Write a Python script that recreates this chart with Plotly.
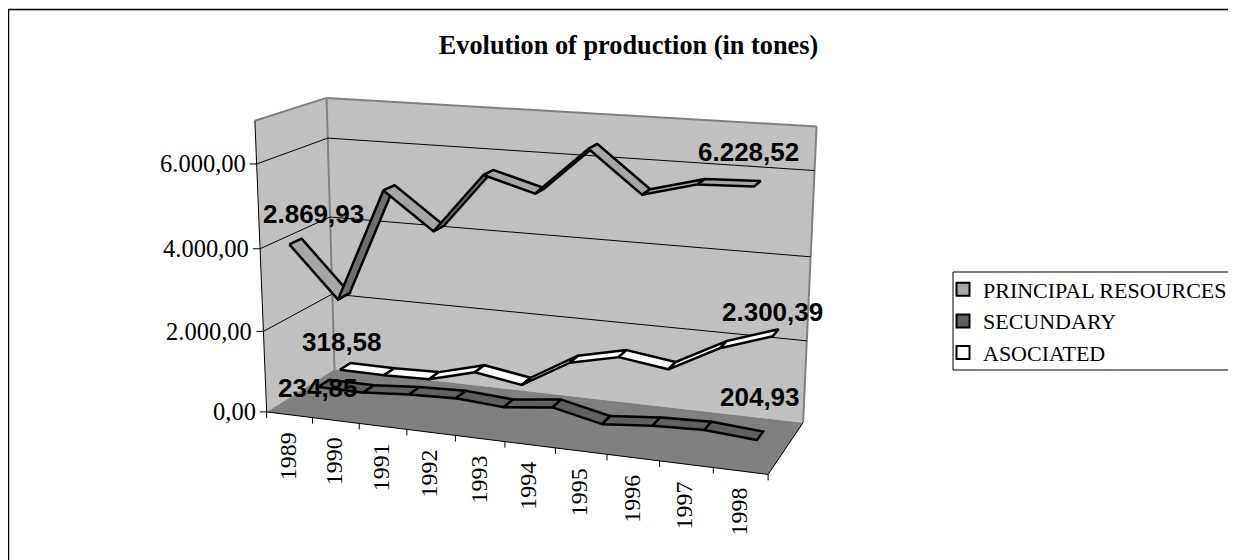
import numpy as np
import plotly.graph_objects as go

years = [1989, 1990, 1991, 1992, 1993, 1994, 1995, 1996, 1997, 1998]
principal = [4090, 2869.93, 5540, 4690, 6060, 5730, 6800, 5880, 6190, 6228.52]
secundary = [234.85, 227, 317, 358, 278, 413, 146, 256, 296, 204.93]
asociated = [318.58, 311, 340, 650, 460, 1150, 1420, 1250, 1890, 2300.39]
value_ticks = [0, 2000, 4000, 6000]
value_tick_labels = ["0,00", "2.000,00", "4.000,00", "6.000,00"]
series_names = ["PRINCIPAL RESOURCES", "SECUNDARY", "ASOCIATED"]
title_text = "Evolution of production (in tones)"

VMAX = 7000.0
W, H = 1240, 560
# Camera calibration: box corners (u along years, d into depth, v/VMAX up) -> page pixels
calib = [
    ((0, 0, 0), (267, 412)), ((1, 0, 0), (768, 474)),
    ((0, 1, 0), (334, 369)), ((1, 1, 0), (803, 423)),
    ((0, 0, 1), (254, 121)), ((0, 1, 1), (327, 97)), ((1, 1, 1), (816, 126)),
    ((0.5, 0, 0), (505, 442)), ((0.2, 0, 0), (359, 423)), ((0.8, 0, 0), (660, 461)),
    ((0, 1, 6 / 7), (328, 139)), ((1, 1, 6 / 7), (815, 171)),
    ((0, 0, 6 / 7), (257, 164)),
]
A, b = [], []
for (u, d, v), (px, py) in calib:
    A.append([u, d, v, 1, 0, 0, 0, 0, -px * u, -px * d, -px * v]); b.append(px)
    A.append([0, 0, 0, 0, u, d, v, 1, -py * u, -py * d, -py * v]); b.append(py)
h = np.linalg.lstsq(np.array(A, float), np.array(b, float), rcond=None)[0]


def proj(u, d, val):
    v = val / VMAX
    w = h[8] * u + h[9] * d + h[10] * v + 1
    return ((h[0] * u + h[1] * d + h[2] * v + h[3]) / w,
            (h[4] * u + h[5] * d + h[6] * v + h[7]) / w)


def poly(pts):
    xs, ys = zip(*pts)
    return list(xs) + [xs[0]], list(ys) + [ys[0]]


fig = go.Figure()


def add_poly(pts, fill, line=None, lw=0):
    xs, ys = poly(pts)
    fig.add_trace(go.Scatter(x=xs, y=ys, mode="lines", fill="toself", fillcolor=fill,
                             line=dict(color=line or fill, width=lw), showlegend=False,
                             hoverinfo="skip"))


def add_line(p, q, color="#000000", width=1):
    fig.add_trace(go.Scatter(x=[p[0], q[0]], y=[p[1], q[1]], mode="lines",
                             line=dict(color=color, width=width), showlegend=False,
                             hoverinfo="skip"))


# walls and floor
add_poly([proj(0, 0, 0), proj(0, 1, 0), proj(0, 1, VMAX), proj(0, 0, VMAX)], "#C0C0C0")
add_poly([proj(0, 1, 0), proj(1, 1, 0), proj(1, 1, VMAX), proj(0, 1, VMAX)], "#C0C0C0")
add_poly([proj(0, 0, 0), proj(1, 0, 0), proj(1, 1, 0), proj(0, 1, 0)], "#808080")
add_line(proj(0, 1, VMAX), proj(1, 1, VMAX), "#808080", 2)
add_line(proj(0, 0, VMAX), proj(0, 1, VMAX), "#808080", 2)
add_line(proj(0, 1, 0), proj(0, 1, VMAX), "#808080", 2)
add_line(proj(1, 1, 0), proj(1, 1, VMAX), "#808080", 2)

# gridlines
for t in value_ticks[1:]:
    add_line(proj(0, 0, t), proj(0, 1, t))
    add_line(proj(0, 1, t), proj(1, 1, t))

# axis lines
add_line(proj(0, 0, 0), proj(0, 0, VMAX), "#000000", 1)
add_line(proj(0, 0, 0), proj(1, 0, 0), "#000000", 1)
add_line(proj(1, 0, 0), proj(1, 1, 0), "#000000", 1)

n = len(years)
for i in range(n + 1):
    x0, y0 = proj(i / n, 0, 0)
    add_line((x0, y0), (x0, y0 + 6))
for t in value_ticks:
    x0, y0 = proj(0, 0, t)
    add_line((x0 - 7, y0), (x0, y0))

# ribbons, back to front
HALF = 0.085
ribbons = [(asociated, 5 / 6, "#FFFFFF", "#FFFFFF"),
           (secundary, 0.5, "#606060", "#404040"),
           (principal, 1 / 6, "#A6A6A6", "#707070")]
for vals, d, top, under in ribbons:
    for i in range(n - 1):
        u0, u1 = (i + 0.5) / n, (i + 1.5) / n
        rising = vals[i + 1] - vals[i] > 900
        add_poly([proj(u0, d - HALF, vals[i]), proj(u1, d - HALF, vals[i + 1]),
                  proj(u1, d + HALF, vals[i + 1]), proj(u0, d + HALF, vals[i])],
                 under if rising else top, "#000000", 2.5)

# legend
for name, col in zip(series_names, ["#A6A6A6", "#606060", "#FFFFFF"]):
    fig.add_trace(go.Scatter(x=[None], y=[None], mode="markers", name=name,
                             marker=dict(symbol="square", size=13, color=col,
                                         line=dict(color="#000000", width=2))))

anns = []
SERIF, SANS = "Liberation Serif", "Liberation Sans"
for t, lab in zip(value_ticks, value_tick_labels):
    x0, y0 = proj(0, 0, t)
    anns.append(dict(x=x0 - 9, y=y0, text=lab, xanchor="right", yanchor="middle",
                     font=dict(family=SERIF, size=24.5, color="#000000")))
for i, yr in enumerate(years):
    x0, y0 = proj((i + 0.5) / n, 0, 0)
    anns.append(dict(x=x0 - 2, y=y0 + 15, text=str(yr), textangle=-90, xanchor="center",
                     yanchor="top", font=dict(family=SERIF, size=24, color="#000000")))


def fmt(v):
    s = f"{v:,.2f}"
    return s.replace(",", "#").replace(".", ",").replace("#", ".")


labels = [(principal[1], 313, 214), (principal[9], 748, 152), (asociated[0], 342, 342),
          (asociated[9], 772, 312), (secundary[0], 318, 388), (secundary[9], 760, 397)]
for v, x, y in labels:
    anns.append(dict(x=x, y=y, text="<b>" + fmt(v) + "</b>", xanchor="center", yanchor="middle",
                     font=dict(family=SANS, size=26, color="#000000")))
for a in anns:
    a.update(xref="x", yref="y", showarrow=False)

fig.update_layout(
    width=W, height=H,
    margin=dict(l=0, r=0, t=0, b=0),
    paper_bgcolor="#FFFFFF", plot_bgcolor="#FFFFFF",
    xaxis=dict(range=[8, 8 + W], visible=False, fixedrange=True),
    yaxis=dict(range=[8 + H, 8], visible=False, fixedrange=True),
    annotations=anns,
    title=dict(text="<b>" + title_text + "</b>", x=(628.5 - 8) / W, xanchor="center",
               y=1 - (45 - 8) / H, yanchor="middle",
               font=dict(family=SERIF, size=26.3, color="#000000")),
    legend=dict(x=(943 - 8) / W, y=1 - (268.5 - 8) / H, xanchor="left", yanchor="top",
                font=dict(family=SERIF, size=22, color="#000000"),
                bgcolor="rgba(0,0,0,0)", borderwidth=0, itemwidth=30, tracegroupgap=0),
    shapes=[
        dict(type="rect", xref="x", yref="y", x0=8.5, y0=9.5, x1=1300, y1=700,
             line=dict(color="#000000", width=1.5), fillcolor="rgba(0,0,0,0)", layer="below"),
        dict(type="rect", xref="x", yref="y", x0=953, y0=272, x1=1300, y1=370,
             line=dict(color="#000000", width=1), fillcolor="rgba(0,0,0,0)", layer="below"),
    ],
)
fig.write_html("out.html")
